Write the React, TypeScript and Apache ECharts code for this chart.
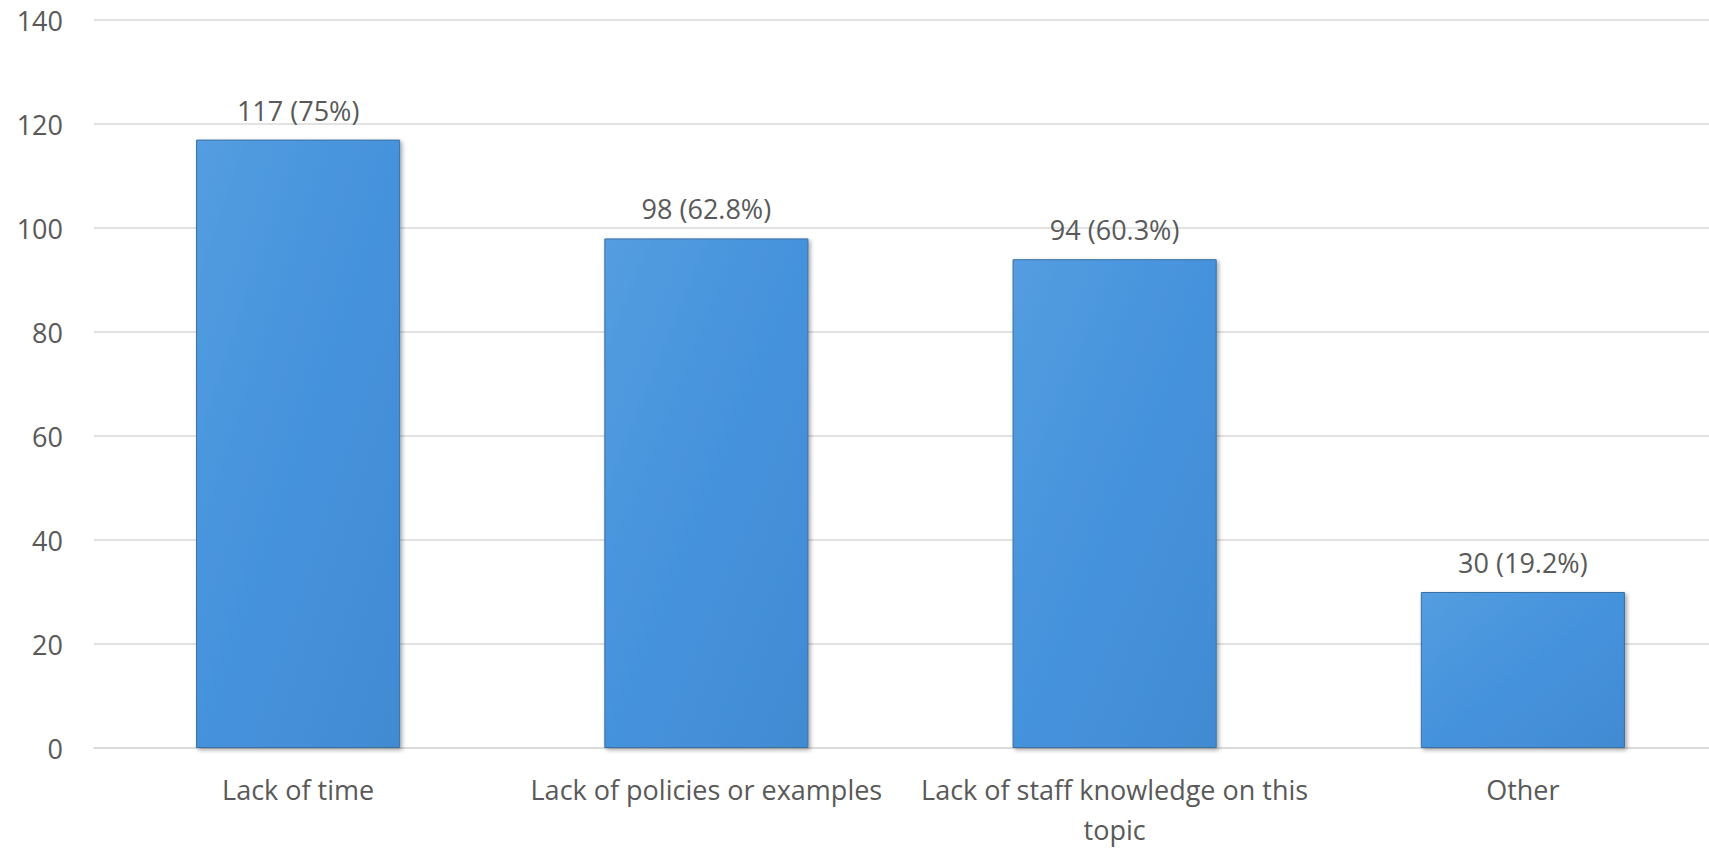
import React, { useEffect, useRef } from "react";
import * as echarts from "echarts";

const categories = [
  "Lack of time",
  "Lack of policies or examples",
  "Lack of staff knowledge on this topic",
  "Other",
];
const counts = [117, 98, 94, 30];
const percents = ["75%", "62.8%", "60.3%", "19.2%"];
const yTicks = { min: 0, max: 140, interval: 20 };

const FONT = "'Open Sans', 'Noto Sans', sans-serif";
const TEXT = "#595959";

export default function App() {
  const ref = useRef<HTMLDivElement>(null);
  useEffect(() => {
    if (!ref.current) return;
    const chart = echarts.init(ref.current, null, { renderer: "svg" });
    chart.setOption({
      animation: false,
      backgroundColor: "#ffffff",
      grid: { left: 94, right: 0, top: 20, bottom: 97, containLabel: false },
      xAxis: {
        type: "category",
        data: categories,
        axisLine: { lineStyle: { color: "#d9d9d9", width: 1.5 } },
        axisTick: { show: false },
        axisLabel: {
          interval: 0,
          color: TEXT,
          fontFamily: FONT,
          fontSize: 27,
          lineHeight: 40,
          margin: 21,
          formatter: (v: string) =>
            v === "Lack of staff knowledge on this topic"
              ? "Lack of staff knowledge on this\ntopic"
              : v,
        },
      },
      yAxis: {
        type: "value",
        min: yTicks.min,
        max: yTicks.max,
        interval: yTicks.interval,
        axisLine: { show: false },
        axisTick: { show: false },
        splitLine: { lineStyle: { color: "#d9d9d9", width: 1.5 } },
        axisLabel: {
          color: TEXT,
          fontFamily: FONT,
          fontSize: 27,
          margin: 31,
        },
      },
      series: [
        {
          type: "bar",
          data: counts,
          barWidth: "50%",
          itemStyle: {
            color: {
              type: "linear",
              x: 0,
              y: 0,
              x2: 1,
              y2: 1,
              colorStops: [
                { offset: 0, color: "#549de0" },
                { offset: 0.5, color: "#4592dc" },
                { offset: 1, color: "#428bd3" },
              ],
            },
            borderColor: "#3b6fa3",
            borderWidth: 1,
            shadowColor: "rgba(0,0,0,0.35)",
            shadowBlur: 4,
            shadowOffsetX: 2,
            shadowOffsetY: 2,
          },
          label: {
            show: true,
            position: "top",
            distance: 16,
            color: TEXT,
            fontFamily: FONT,
            fontSize: 27,
            formatter: (p: any) => `${counts[p.dataIndex]} (${percents[p.dataIndex]})`,
          },
        },
      ],
    });
    return () => chart.dispose();
  }, []);
  return (
    <div
      style={{
        position: "fixed",
        left: 0,
        top: 0,
        width: 1709,
        height: 849,
        overflow: "hidden",
        background: "#ffffff",
      }}
    >
      <div ref={ref} style={{ width: 1727, height: 849 }} />
    </div>
  );
}
